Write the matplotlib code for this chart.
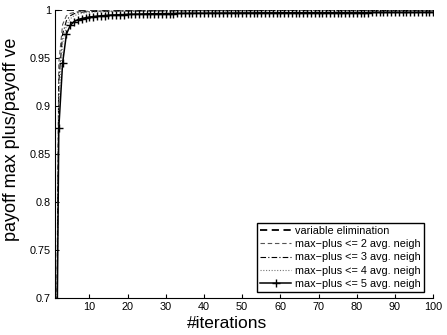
import numpy as np
import matplotlib
matplotlib.use("Agg")
import matplotlib.pyplot as plt

plt.rcParams['font.family'] = ['Liberation Sans', 'DejaVu Sans']

iterations = list(range(1, 101))

ve = [1.0, 1.0, 1.0, 1.0, 1.0, 1.0, 1.0, 1.0, 1.0, 1.0,
      1.0, 1.0, 1.0, 1.0, 1.0, 1.0, 1.0, 1.0, 1.0, 1.0,
      1.0, 1.0, 1.0, 1.0, 1.0, 1.0, 1.0, 1.0, 1.0, 1.0,
      1.0, 1.0, 1.0, 1.0, 1.0, 1.0, 1.0, 1.0, 1.0, 1.0,
      1.0, 1.0, 1.0, 1.0, 1.0, 1.0, 1.0, 1.0, 1.0, 1.0,
      1.0, 1.0, 1.0, 1.0, 1.0, 1.0, 1.0, 1.0, 1.0, 1.0,
      1.0, 1.0, 1.0, 1.0, 1.0, 1.0, 1.0, 1.0, 1.0, 1.0,
      1.0, 1.0, 1.0, 1.0, 1.0, 1.0, 1.0, 1.0, 1.0, 1.0,
      1.0, 1.0, 1.0, 1.0, 1.0, 1.0, 1.0, 1.0, 1.0, 1.0,
      1.0, 1.0, 1.0, 1.0, 1.0, 1.0, 1.0, 1.0, 1.0, 1.0]

mp2 = [0.45, 0.945, 0.985, 0.994, 0.9965, 0.9975, 0.9982, 0.9985, 0.9987, 0.9988,
       0.9989, 0.9990, 0.9990, 0.9991, 0.9991, 0.9991, 0.9992, 0.9992, 0.9992, 0.9992,
       0.9993, 0.9993, 0.9993, 0.9993, 0.9993, 0.9993, 0.9994, 0.9994, 0.9994, 0.9994,
       0.9994, 0.9994, 0.9994, 0.9994, 0.9994, 0.9995, 0.9995, 0.9995, 0.9995, 0.9995,
       0.9995, 0.9995, 0.9995, 0.9995, 0.9995, 0.9995, 0.9995, 0.9995, 0.9995, 0.9995,
       0.9995, 0.9995, 0.9995, 0.9995, 0.9995, 0.9995, 0.9996, 0.9996, 0.9996, 0.9996,
       0.9996, 0.9996, 0.9996, 0.9996, 0.9996, 0.9996, 0.9996, 0.9996, 0.9996, 0.9996,
       0.9996, 0.9996, 0.9996, 0.9996, 0.9996, 0.9996, 0.9996, 0.9996, 0.9996, 0.9996,
       0.9996, 0.9996, 0.9996, 0.9996, 0.9996, 0.9996, 0.9996, 0.9996, 0.9996, 0.9996,
       0.9996, 0.9996, 0.9996, 0.9996, 0.9996, 0.9996, 0.9996, 0.9996, 0.9996, 0.9996]

mp3 = [0.43, 0.925, 0.975, 0.989, 0.994, 0.9962, 0.9972, 0.9978, 0.9981, 0.9983,
       0.9985, 0.9986, 0.9987, 0.9987, 0.9988, 0.9988, 0.9989, 0.9989, 0.9989, 0.9990,
       0.9990, 0.9990, 0.9990, 0.9991, 0.9991, 0.9991, 0.9991, 0.9991, 0.9991, 0.9992,
       0.9992, 0.9992, 0.9992, 0.9992, 0.9992, 0.9992, 0.9992, 0.9992, 0.9993, 0.9993,
       0.9993, 0.9993, 0.9993, 0.9993, 0.9993, 0.9993, 0.9993, 0.9993, 0.9993, 0.9993,
       0.9993, 0.9993, 0.9994, 0.9994, 0.9994, 0.9994, 0.9994, 0.9994, 0.9994, 0.9994,
       0.9994, 0.9994, 0.9994, 0.9994, 0.9994, 0.9994, 0.9994, 0.9994, 0.9994, 0.9994,
       0.9994, 0.9994, 0.9994, 0.9994, 0.9994, 0.9994, 0.9994, 0.9994, 0.9994, 0.9994,
       0.9994, 0.9994, 0.9994, 0.9994, 0.9994, 0.9994, 0.9994, 0.9994, 0.9994, 0.9994,
       0.9994, 0.9994, 0.9994, 0.9994, 0.9994, 0.9994, 0.9994, 0.9994, 0.9994, 0.9994]

mp4 = [0.42, 0.905, 0.965, 0.984, 0.991, 0.9940, 0.9956, 0.9965, 0.9971, 0.9975,
       0.9978, 0.9980, 0.9981, 0.9982, 0.9983, 0.9984, 0.9985, 0.9985, 0.9986, 0.9986,
       0.9987, 0.9987, 0.9987, 0.9988, 0.9988, 0.9988, 0.9988, 0.9989, 0.9989, 0.9989,
       0.9989, 0.9989, 0.9989, 0.9990, 0.9990, 0.9990, 0.9990, 0.9990, 0.9990, 0.9990,
       0.9990, 0.9990, 0.9991, 0.9991, 0.9991, 0.9991, 0.9991, 0.9991, 0.9991, 0.9991,
       0.9991, 0.9991, 0.9991, 0.9991, 0.9991, 0.9991, 0.9991, 0.9991, 0.9992, 0.9992,
       0.9992, 0.9992, 0.9992, 0.9992, 0.9992, 0.9992, 0.9992, 0.9992, 0.9992, 0.9992,
       0.9992, 0.9992, 0.9992, 0.9992, 0.9992, 0.9992, 0.9992, 0.9992, 0.9992, 0.9992,
       0.9992, 0.9992, 0.9992, 0.9992, 0.9992, 0.9992, 0.9992, 0.9992, 0.9992, 0.9992,
       0.9992, 0.9992, 0.9992, 0.9992, 0.9992, 0.9992, 0.9992, 0.9992, 0.9992, 0.9992]

mp5 = [0.40, 0.877, 0.945, 0.975, 0.984, 0.988, 0.9900, 0.9912, 0.9920, 0.9927,
       0.9932, 0.9936, 0.9940, 0.9943, 0.9946, 0.9948, 0.9950, 0.9952, 0.9953, 0.9955,
       0.9956, 0.9957, 0.9958, 0.9959, 0.9960, 0.9961, 0.9962, 0.9962, 0.9963, 0.9963,
       0.9964, 0.9964, 0.9965, 0.9965, 0.9966, 0.9966, 0.9966, 0.9967, 0.9967, 0.9967,
       0.9968, 0.9968, 0.9968, 0.9968, 0.9969, 0.9969, 0.9969, 0.9969, 0.9970, 0.9970,
       0.9970, 0.9970, 0.9970, 0.9971, 0.9971, 0.9971, 0.9971, 0.9971, 0.9971, 0.9972,
       0.9972, 0.9972, 0.9972, 0.9972, 0.9972, 0.9972, 0.9973, 0.9973, 0.9973, 0.9973,
       0.9973, 0.9973, 0.9973, 0.9973, 0.9974, 0.9974, 0.9974, 0.9974, 0.9974, 0.9974,
       0.9974, 0.9974, 0.9974, 0.9975, 0.9975, 0.9975, 0.9975, 0.9975, 0.9975, 0.9975,
       0.9975, 0.9975, 0.9975, 0.9975, 0.9975, 0.9975, 0.9976, 0.9976, 0.9976, 0.9976]

labels = ["variable elimination",
          "max\u2212plus <= 2 avg. neigh",
          "max\u2212plus <= 3 avg. neigh",
          "max\u2212plus <= 4 avg. neigh",
          "max\u2212plus <= 5 avg. neigh"]

xticks = [10, 20, 30, 40, 50, 60, 70, 80, 90, 100]
yticks = [0.7, 0.75, 0.8, 0.85, 0.9, 0.95, 1.0]
yticklabels = ["0.7", "0.75", "0.8", "0.85", "0.9", "0.95", "1"]

fig = plt.figure(figsize=(4.47, 3.35), dpi=100)
ax = fig.add_axes([0.123, 0.110, 0.846, 0.860])

ax.plot(iterations, ve, color='black', linestyle=(0, (4, 2.5)), linewidth=1.3, label=labels[0])
ax.plot(iterations, mp2, color='#555555', linestyle=(0, (4, 2.5)), linewidth=0.8, label=labels[1])
ax.plot(iterations, mp3, color='black', linestyle=(0, (5, 2, 1, 2)), linewidth=0.8, label=labels[2])
ax.plot(iterations, mp4, color='#777777', linestyle=(0, (1, 1.5)), linewidth=0.8, label=labels[3])
ax.plot(iterations, mp5, color='black', linestyle='-', linewidth=1.1, marker='+',
        markersize=5.5, markeredgewidth=1.0, label=labels[4])

ax.set_xlim(1, 100)
ax.set_ylim(0.7, 1.0)
ax.set_xticks(xticks)
ax.set_yticks(yticks)
ax.set_yticklabels(yticklabels)
ax.spines['top'].set_visible(False)
ax.spines['right'].set_visible(False)
ax.spines['left'].set_linewidth(0.8)
ax.spines['bottom'].set_linewidth(0.8)
ax.tick_params(direction='in', length=3, width=0.8, labelsize=7.8, pad=3)

ax.set_xlabel('#iterations', fontsize=12.5)
ax.set_ylabel('payoff max plus/payoff ve', fontsize=13)
ax.xaxis.set_label_coords(0.455, -0.062)
ax.yaxis.set_label_coords(-0.092, 0.55)

leg = ax.legend(loc='lower right', bbox_to_anchor=(0.976, 0.021), borderaxespad=0,
                fontsize=7.8, fancybox=False, edgecolor='black', framealpha=1,
                handlelength=2.8, handletextpad=0.4, labelspacing=0.3,
                borderpad=0.3)
leg.get_frame().set_linewidth(1.0)

fig.savefig('out.png', dpi=100)
